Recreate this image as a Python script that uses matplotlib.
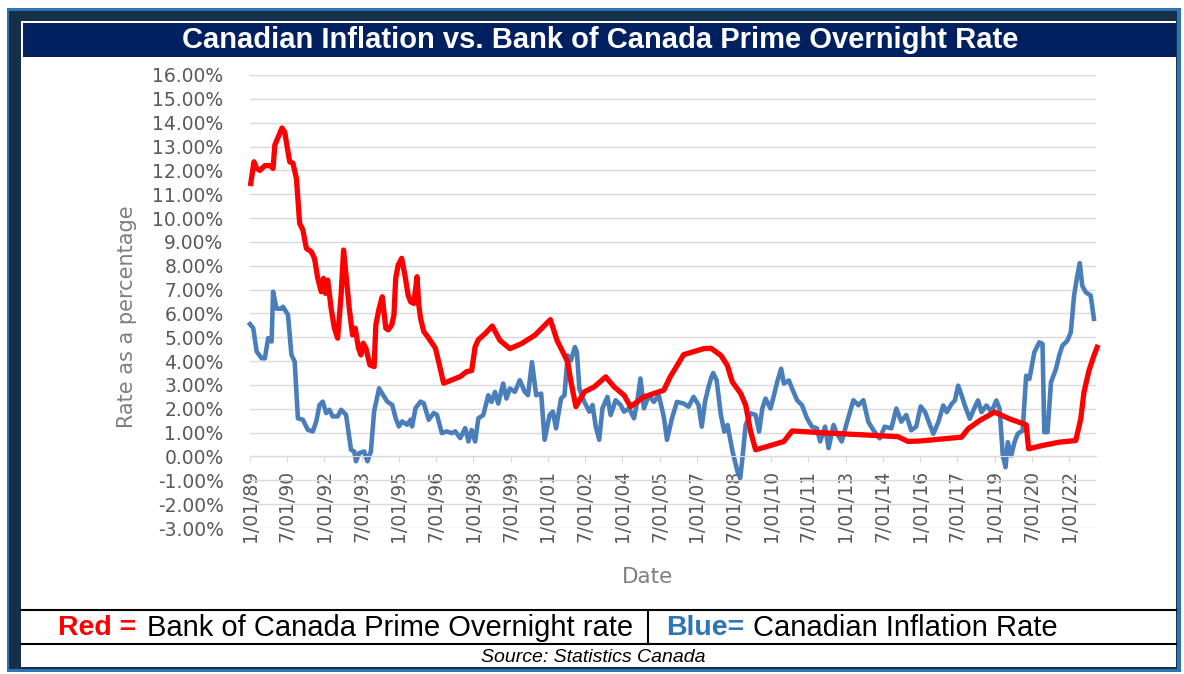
import matplotlib
matplotlib.use("Agg")
import matplotlib.pyplot as plt
from matplotlib.patches import Rectangle

# values (decimal year, percent)
blue_years = [1989.00, 1989.13, 1989.27, 1989.47, 1989.60, 1989.73, 1989.87, 1989.93, 1990.07, 1990.27,
              1990.33, 1990.53, 1990.67, 1990.80, 1990.93, 1991.13, 1991.33, 1991.53, 1991.67, 1991.80,
              1991.93, 1992.07, 1992.20, 1992.33, 1992.53, 1992.67, 1992.87, 1993.07, 1993.20, 1993.27,
              1993.40, 1993.60, 1993.73, 1993.87, 1994.00, 1994.20, 1994.36, 1994.53, 1994.73, 1994.87,
              1995.00, 1995.13, 1995.33, 1995.47, 1995.53, 1995.67, 1995.87, 1996.00, 1996.20, 1996.40,
              1996.53, 1996.73, 1996.93, 1997.13, 1997.27, 1997.47, 1997.67, 1997.80, 1997.93, 1998.07,
              1998.20, 1998.40, 1998.60, 1998.73, 1998.87, 1999.00, 1999.20, 1999.33, 1999.47, 1999.67,
              1999.87, 2000.07, 2000.20, 2000.36, 2000.53, 2000.73, 2000.87, 2001.07, 2001.20, 2001.33,
              2001.53, 2001.67, 2001.80, 2001.93, 2002.09, 2002.17, 2002.27, 2002.47, 2002.67, 2002.80,
              2002.93, 2003.07, 2003.20, 2003.40, 2003.53, 2003.73, 2003.93, 2004.07, 2004.27, 2004.47,
              2004.60, 2004.73, 2004.87, 2005.07, 2005.27, 2005.47, 2005.67, 2005.80, 2006.00, 2006.20,
              2006.47, 2006.67, 2006.87, 2007.07, 2007.20, 2007.33, 2007.47, 2007.58, 2007.66, 2007.80,
              2007.97, 2008.11, 2008.24, 2008.44, 2008.64, 2008.75, 2008.84, 2008.97, 2009.17, 2009.37,
              2009.51, 2009.64, 2009.77, 2009.97, 2010.11, 2010.24, 2010.40, 2010.51, 2010.71, 2010.84,
              2011.04, 2011.24, 2011.44, 2011.64, 2011.84, 2011.97, 2012.17, 2012.31, 2012.51, 2012.64,
              2012.84, 2013.04, 2013.31, 2013.51, 2013.71, 2013.91, 2014.11, 2014.37, 2014.57, 2014.84,
              2015.04, 2015.24, 2015.44, 2015.64, 2015.84, 2016.02, 2016.20, 2016.40, 2016.53, 2016.73,
              2016.93, 2017.07, 2017.27, 2017.40, 2017.53, 2017.67, 2017.80, 2018.00, 2018.20, 2018.33,
              2018.47, 2018.67, 2018.87, 2019.07, 2019.20, 2019.33, 2019.44, 2019.53, 2019.67, 2019.80,
              2019.93, 2020.13, 2020.27, 2020.40, 2020.60, 2020.80, 2020.93, 2021.00, 2021.13, 2021.27,
              2021.47, 2021.60, 2021.73, 2021.93, 2022.07, 2022.20, 2022.33, 2022.43, 2022.53, 2022.67,
              2022.87, 2023.00]
blue_values = [5.55, 5.38, 4.40, 4.12, 4.12, 4.96, 4.82, 6.91, 6.20, 6.20,
               6.28, 5.94, 4.26, 3.98, 1.60, 1.54, 1.12, 1.05, 1.47, 2.16,
               2.30, 1.82, 1.96, 1.68, 1.68, 1.96, 1.75, 0.28, 0.21, -0.20,
               0.14, 0.21, -0.20, 0.21, 1.89, 2.86, 2.58, 2.30, 2.16, 1.60,
               1.26, 1.47, 1.33, 1.54, 1.26, 2.03, 2.30, 2.23, 1.54, 1.82,
               1.75, 0.98, 1.05, 0.98, 1.05, 0.77, 1.19, 0.63, 1.11, 0.63,
               1.60, 1.74, 2.57, 2.29, 2.71, 2.22, 3.06, 2.43, 2.85, 2.71,
               3.20, 2.71, 2.57, 3.96, 2.57, 2.64, 0.70, 1.74, 1.88, 1.18,
               2.43, 2.57, 4.24, 4.03, 4.59, 4.38, 2.85, 2.29, 1.88, 2.16,
               1.25, 0.70, 2.02, 2.50, 1.74, 2.36, 2.16, 1.88, 2.02, 1.60,
               2.29, 3.27, 2.02, 2.57, 2.29, 2.57, 1.67, 0.70, 1.60, 2.29,
               2.22, 2.09, 2.50, 2.16, 1.25, 2.29, 2.90, 3.30, 3.50, 3.20,
               1.74, 1.04, 1.32, 0.21, -0.63, -0.90, -0.07, 1.32, 1.81, 1.74,
               1.04, 2.01, 2.43, 2.01, 2.57, 3.13, 3.68, 3.06, 3.19, 2.85,
               2.36, 2.15, 1.60, 1.25, 1.18, 0.63, 1.25, 0.35, 1.32, 0.97,
               0.63, 1.39, 2.36, 2.15, 2.36, 1.46, 1.11, 0.76, 1.25, 1.18,
               2.01, 1.46, 1.74, 1.10, 1.25, 2.10, 1.86, 1.30, 0.95, 1.44,
               2.14, 1.86, 2.21, 2.35, 2.97, 2.56, 2.14, 1.58, 2.07, 2.35,
               1.86, 2.14, 1.86, 2.35, 2.00, 0.04, -0.45, 0.60, 0.04, 0.60,
               0.95, 1.09, 3.39, 3.25, 4.37, 4.79, 4.72, 1.02, 1.02, 3.11,
               3.67, 4.23, 4.65, 4.86, 5.21, 6.75, 7.58, 8.11, 7.16, 6.89,
               6.75, 5.77]

red_years = [1989.03, 1989.16, 1989.27, 1989.40, 1989.60, 1989.80, 1989.93, 1990.00, 1990.17, 1990.29,
             1990.40, 1990.53, 1990.60, 1990.73, 1990.87, 1991.00, 1991.13, 1991.27, 1991.47, 1991.60,
             1991.73, 1991.87, 1991.96, 1992.04, 1992.13, 1992.27, 1992.40, 1992.53, 1992.67, 1992.77,
             1992.87, 1993.00, 1993.13, 1993.24, 1993.37, 1993.47, 1993.56, 1993.67, 1993.83, 1994.00,
             1994.07, 1994.20, 1994.33, 1994.47, 1994.57, 1994.71, 1994.80, 1994.87, 1994.97, 1995.11,
             1995.24, 1995.37, 1995.47, 1995.60, 1995.73, 1995.80, 1995.87, 1996.00, 1996.20, 1996.47,
             1996.60, 1996.80, 1997.13, 1997.47, 1997.73, 1997.93, 1998.07, 1998.20, 1998.47, 1998.76,
             1999.07, 1999.47, 1999.93, 2000.47, 2001.10, 2001.37, 2001.67, 2001.80, 2001.93, 2002.13,
             2002.47, 2002.87, 2003.33, 2003.67, 2004.07, 2004.33, 2004.87, 2005.67, 2005.93, 2006.47,
             2007.27, 2007.57, 2007.97, 2008.23, 2008.43, 2008.77, 2008.97, 2009.17, 2009.37, 2009.84,
             2010.51, 2010.84, 2012.51, 2013.84, 2015.11, 2015.51, 2016.00, 2017.67, 2017.93, 2018.40,
             2019.00, 2019.60, 2020.27, 2020.37, 2020.93, 2021.60, 2022.27, 2022.47, 2022.60, 2022.80,
             2023.00, 2023.13]
red_values = [11.45, 12.36, 12.08, 12.00, 12.20, 12.20, 12.08, 13.06, 13.48, 13.78,
              13.60, 12.78, 12.36, 12.30, 11.66, 9.78, 9.50, 8.73, 8.59, 8.30,
              7.47, 6.91, 7.47, 6.84, 7.40, 6.20, 5.38, 4.96, 6.77, 8.66,
              7.61, 6.20, 5.10, 5.38, 4.54, 4.26, 4.75, 4.54, 3.84, 3.77,
              5.52, 6.20, 6.70, 5.38, 5.31, 5.52, 5.94, 7.47, 8.03, 8.31,
              7.61, 6.77, 6.49, 6.42, 7.54, 6.35, 5.80, 5.24, 4.96, 4.54,
              3.98, 3.07, 3.21, 3.35, 3.56, 3.60, 4.60, 4.90, 5.15, 5.47,
              4.87, 4.52, 4.73, 5.08, 5.74, 4.87, 4.24, 3.96, 3.13, 2.09,
              2.71, 2.92, 3.34, 2.92, 2.57, 2.09, 2.50, 2.78, 3.34, 4.27,
              4.52, 4.54, 4.24, 3.82, 3.13, 2.64, 2.15, 1.04, 0.28, 0.42,
              0.63, 1.07, 0.97, 0.90, 0.83, 0.63, 0.65, 0.81, 1.16, 1.51,
              1.86, 1.58, 1.33, 0.32, 0.46, 0.60, 0.67, 1.58, 2.70, 3.60,
              4.23, 4.58]

tick_years = [1989 + 1.5 * i for i in range(23)]
tick_labels = ["1/01/89", "7/01/90", "1/01/92", "7/01/93", "1/01/95", "7/01/96", "1/01/98",
               "7/01/99", "1/01/01", "7/01/02", "1/01/04", "7/01/05", "1/01/07", "7/01/08",
               "1/01/10", "7/01/11", "1/01/13", "7/01/14", "1/01/16", "7/01/17", "1/01/19",
               "7/01/20", "1/01/22"]
y_ticks = list(range(-3, 17))

W, H = 1184, 674
fig = plt.figure(figsize=(W / 100, H / 100), dpi=100)

# frame drawn in pixel coordinates
bg = fig.add_axes([0, 0, 1, 1], zorder=0)
bg.set_xlim(0, W)
bg.set_ylim(H, 0)
bg.axis("off")


def box(x0, y0, x1, y1, color):
    bg.add_patch(Rectangle((x0, y0), x1 - x0, y1 - y0, facecolor=color, edgecolor="none"))


box(7, 8, 1181, 672, "#2E74B5")
box(9, 11, 1177, 669, "#17304A")
box(21, 21, 1176, 667, "white")
box(23, 23, 1176, 57, "#002060")

bg.text(600, 40, "Canadian Inflation vs. Bank of Canada Prime Overnight Rate", color="white",
        fontsize=21, fontweight="bold", family="Liberation Sans", ha="center", va="center")

# legend table
bg.plot([21, 1176], [610, 610], color="black", lw=1.5)
bg.plot([21, 1176], [644, 644], color="black", lw=1.5)
bg.plot([648, 648], [610, 644], color="black", lw=1.5)
bg.text(58, 628, "Red =", color="#FF0000", fontsize=20.5, fontweight="bold",
        family="Liberation Sans", ha="left", va="center")
bg.text(147, 628, "Bank of Canada Prime Overnight rate", color="black", fontsize=21,
        family="Liberation Sans", ha="left", va="center")
bg.text(666, 628, "Blue=", color="#2E75B6", fontsize=20.5, fontweight="bold",
        family="Liberation Sans", ha="left", va="center")
bg.text(753, 628, "Canadian Inflation Rate", color="black", fontsize=21,
        family="Liberation Sans", ha="left", va="center")
bg.text(593, 658, "Source: Statistics Canada", color="black", fontsize=14, style="italic",
        family="Liberation Sans", ha="center", va="center")

bg.text(127, 317, "Rate as a percentage", color="#7F7F7F", fontsize=15, rotation=90,
        ha="center", va="center")
bg.text(648, 577, "Date", color="#7F7F7F", fontsize=15.5, ha="center", va="center")

# chart area
ax = fig.add_axes([250 / W, 1 - 528 / H, (1096.4 - 250) / W, (528 - 75) / H], zorder=1)
ax.patch.set_visible(False)
ax.plot(blue_years, blue_values, color="#4A7EBB", lw=3.3, solid_joinstyle="round", clip_on=False)
ax.plot(red_years, red_values, color="#FF0000", lw=3.8, solid_joinstyle="round", clip_on=False)

ax.set_xlim(1989, 2023.1)
ax.set_ylim(-3, 16)
ax.set_yticks(y_ticks)
ax.set_yticklabels([f"{v:.2f}%" for v in y_ticks])
ax.set_xticks(tick_years)
ax.set_xticklabels(tick_labels)
ax.grid(axis="y", color="#D9D9D9", lw=1)
ax.set_axisbelow(True)
for s in ["left", "right", "top"]:
    ax.spines[s].set_visible(False)
ax.spines["bottom"].set_position(("data", 0))
ax.spines["bottom"].set_color("#D9D9D9")
ax.tick_params(axis="y", length=0, pad=19, labelsize=13.5, labelcolor="#595959")
ax.tick_params(axis="x", length=4.5, color="#D9D9D9", pad=5, labelsize=13.5, labelcolor="#595959",
               labelrotation=90)

fig.savefig("out.png", dpi=100)
